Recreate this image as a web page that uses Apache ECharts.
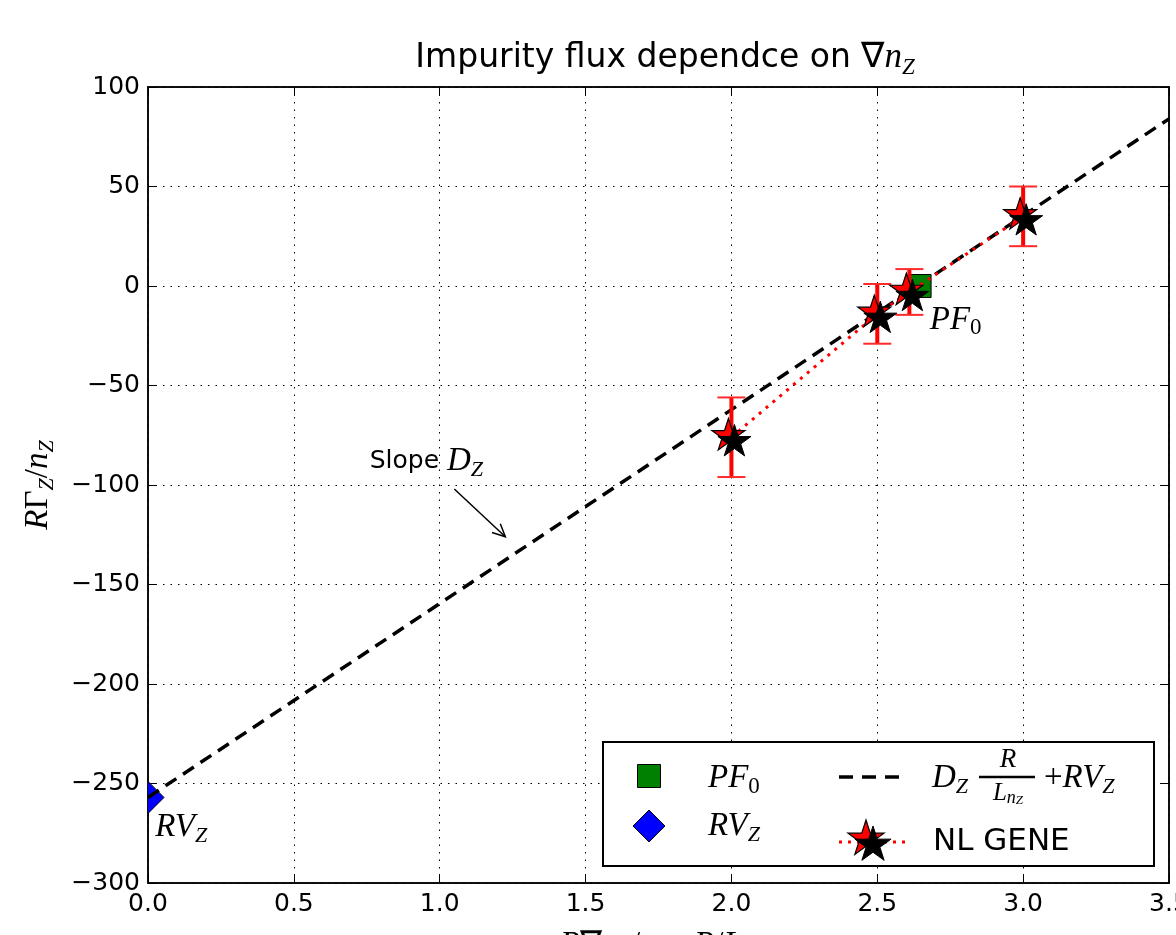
<!DOCTYPE html>
<html>
<head>
<meta charset="utf-8">
<script src="https://cdn.jsdelivr.net/npm/echarts@6/dist/echarts.min.js"></script>
<style>
  html, body { margin: 0; padding: 0; background: #fff; }
  #chart { width: 1176px; height: 935px; }
</style>
</head>
<body>
<div id="chart"></div>
<script>
// fit line  D_Z * R/L_nz + RV_Z
var fitX = [0, 3.5]
var fitY = [-257, 84]
// NL GENE runs
var geneX = [2.0, 2.5, 2.61, 3.0]
var geneY = [-76, -14, -3, 35]
var geneErr = [20, 15, 11.5, 15]
// PF_0 point
var pfX = [2.645]
var pfY = [0]
// RV_Z point
var rvX = [0]
var rvY = [-257]
// axis ticks
var xTicks = [0, 0.5, 1.0, 1.5, 2.0, 2.5, 3.0, 3.5]
var yTicks = [-300, -250, -200, -150, -100, -50, 0, 50, 100]

var mathFont = 'Liberation Serif'
var sansFont = 'DejaVu Sans'

// 5-point star like matplotlib '*'
function starPoints(cx, cy, R) {
  var pts = []
  for (var i = 0; i < 10; i++) {
    var r = i % 2 === 0 ? R : R * 0.382
    var a = -Math.PI / 2 + i * Math.PI / 5
    pts.push([cx + r * Math.cos(a), cy + r * Math.sin(a)])
  }
  return pts
}
var STAR = 'path://M' + starPoints(50, 50, 50).map(function (p) {
  return p[0].toFixed(2) + ',' + p[1].toFixed(2)
}).join(' L') + ' Z'

var mathRich = {
  i: { fontFamily: mathFont, fontStyle: 'italic', fontSize: 33, lineHeight: 40, color: '#000' },
  u: { fontFamily: mathFont, fontSize: 33, lineHeight: 40, color: '#000' },
  s: { fontFamily: mathFont, fontStyle: 'italic', fontSize: 22, lineHeight: 22, verticalAlign: 'bottom', color: '#000' },
  d: { fontFamily: mathFont, fontSize: 23, lineHeight: 22, verticalAlign: 'bottom', color: '#000' },
}

function pair(xs, ys) {
  return xs.map(function (x, i) { return [x, ys[i]] })
}

var chart = echarts.init(document.getElementById('chart'))

var axisCommon = {
  type: 'value',
  axisLine: { show: true, onZero: false, lineStyle: { color: '#000', width: 1.5 } },
  axisTick: { show: true, inside: true, length: 9, lineStyle: { color: '#000', width: 1 } },
}
var gridDots = { show: true, lineStyle: { color: '#000', width: 1, type: [1.5, 6] } }

option = {
  backgroundColor: '#fff',
  animation: false,
  title: {
    text: 'Impurity flux dependce on {u|∇}{i|n}{s|Z}',
    left: 660,
    top: 32,
    textAlign: 'center',
    textStyle: {
      fontFamily: sansFont,
      fontSize: 33,
      fontWeight: 'normal',
      color: '#000',
      rich: {
        u: { fontFamily: mathFont, fontSize: 35, lineHeight: 42 },
        i: { fontFamily: mathFont, fontStyle: 'italic', fontSize: 35, lineHeight: 42 },
        s: { fontFamily: mathFont, fontStyle: 'italic', fontSize: 23, lineHeight: 22, verticalAlign: 'bottom' },
      },
    },
  },
  grid: {
    left: 148,
    right: 7,
    top: 87,
    bottom: 52,
    outerBoundsMode: 'none',
    containLabel: false,
    show: true,
    borderColor: '#000',
    borderWidth: 1.5,
    backgroundColor: '#fff',
  },
  xAxis: [
    Object.assign({}, axisCommon, {
      position: 'bottom',
      min: xTicks[0],
      max: xTicks[xTicks.length - 1],
      interval: 0.5,
      axisLabel: {
        color: '#000',
        fontFamily: sansFont,
        fontSize: 25,
        margin: 9,
        hideOverlap: false,
        formatter: function (v) { return v.toFixed(1) },
      },
      splitLine: gridDots,
    }),
    Object.assign({}, axisCommon, {
      position: 'top',
      min: xTicks[0],
      max: xTicks[xTicks.length - 1],
      interval: 0.5,
      axisLabel: { show: false },
      splitLine: { show: false },
    }),
  ],
  yAxis: [
    Object.assign({}, axisCommon, {
      position: 'left',
      min: yTicks[0],
      max: yTicks[yTicks.length - 1],
      interval: 50,
      axisLabel: {
        color: '#000',
        fontFamily: sansFont,
        fontSize: 25,
        margin: 8,
        formatter: function (v) { return v < 0 ? '\u2212' + Math.abs(v) : String(v) },
      },
      splitLine: gridDots,
      name: '{i|R}{u|Γ}{s|Z}{u|/}{i|n}{s|Z}',
      nameLocation: 'middle',
      nameRotate: 90,
      nameGap: 90,
      nameTextStyle: { rich: mathRich },
    }),
    Object.assign({}, axisCommon, {
      position: 'right',
      min: yTicks[0],
      max: yTicks[yTicks.length - 1],
      interval: 50,
      axisLabel: { show: false },
      splitLine: { show: false },
    }),
  ],
  series: [
    {
      // RV_Z diamond, clipped at the axis like matplotlib
      name: 'RV_Z',
      type: 'custom',
      clip: true,
      z: 2,
      data: pair(rvX, rvY),
      renderItem: function (params, api) {
        var p = api.coord([api.value(0), api.value(1)])
        return {
          type: 'polygon',
          shape: { points: [[p[0], p[1] - 16], [p[0] + 16, p[1]], [p[0], p[1] + 16], [p[0] - 16, p[1]]] },
          style: { fill: '#0000ff', stroke: '#000', lineWidth: 1 },
        }
      },
    },
    {
      name: 'fit',
      type: 'line',
      z: 3,
      data: pair(fitX, fitY),
      symbol: 'none',
      lineStyle: { color: '#000', width: 3.5, type: [13, 8] },
    },
    {
      name: 'PF_0',
      type: 'scatter',
      z: 4,
      data: pair(pfX, pfY),
      symbol: 'rect',
      symbolSize: 23,
      itemStyle: { color: '#008000', borderColor: '#000', borderWidth: 1, opacity: 1 },
    },
    {
      name: 'NL GENE line',
      type: 'line',
      z: 5,
      data: pair(geneX, geneY),
      symbol: 'none',
      lineStyle: { color: '#ff0000', width: 3, type: [3, 6] },
    },
    {
      name: 'errors',
      type: 'custom',
      z: 6,
      data: geneX.map(function (x, i) { return [x, geneY[i] - geneErr[i], geneY[i] + geneErr[i]] }),
      encode: { x: 0, y: [1, 2] },
      renderItem: function (params, api) {
        var lo = api.coord([api.value(0), api.value(1)])
        var hi = api.coord([api.value(0), api.value(2)])
        var c = 14
        return {
          type: 'group',
          children: [
            { type: 'line', shape: { x1: lo[0], y1: lo[1], x2: hi[0], y2: hi[1] }, style: { stroke: '#ff0000', lineWidth: 4 } },
            { type: 'line', shape: { x1: lo[0] - c, y1: lo[1], x2: lo[0] + c, y2: lo[1] }, style: { stroke: '#ff2a2a', lineWidth: 2 } },
            { type: 'line', shape: { x1: hi[0] - c, y1: hi[1], x2: hi[0] + c, y2: hi[1] }, style: { stroke: '#ff2a2a', lineWidth: 2 } },
          ],
        }
      },
    },
    {
      name: 'NL GENE red',
      type: 'scatter',
      z: 7,
      data: pair(geneX, geneY),
      symbol: STAR,
      symbolKeepAspect: true,
      symbolSize: 33,
      symbolOffset: [-3, -3],
      itemStyle: { color: '#ff0000', borderColor: '#000', borderWidth: 1.2, opacity: 1 },
    },
    {
      name: 'NL GENE black',
      type: 'scatter',
      z: 8,
      data: pair(geneX, geneY),
      symbol: STAR,
      symbolKeepAspect: true,
      symbolSize: 33,
      symbolOffset: [3, 3],
      itemStyle: { color: '#000', borderColor: '#000', borderWidth: 1, opacity: 1 },
    },
  ],
}
chart.setOption(option)

// annotations and legend
var slopeAt = chart.convertToPixel({ gridIndex: 0 }, [0.76, -88])
var arrowFrom = chart.convertToPixel({ gridIndex: 0 }, [1.05, -102])
var arrowTo = chart.convertToPixel({ gridIndex: 0 }, [1.225, -126])
var pfAt = chart.convertToPixel({ gridIndex: 0 }, [2.68, -17])
var rvAt = chart.convertToPixel({ gridIndex: 0 }, [0.025, -272])
var xNameAt = chart.convertToPixel({ gridIndex: 0 }, [1.75, -300])

var ang = Math.atan2(arrowTo[1] - arrowFrom[1], arrowTo[0] - arrowFrom[0])
var hl = 14
function headPt(sign) {
  return [arrowTo[0] - hl * Math.cos(ang + sign * 0.45), arrowTo[1] - hl * Math.sin(ang + sign * 0.45)]
}

function mathText(x, y, text, align) {
  return {
    type: 'text',
    x: x,
    y: y,
    z: 100,
    style: { text: text, rich: mathRich, verticalAlign: 'middle', align: align || 'left' },
  }
}

var lgX = 603, lgY = 742, lgW = 551, lgH = 124
var dashSegs = [[839, 853], [862, 876], [885, 899]]

chart.setOption({
  graphic: [
    // x axis label, mostly below the picture edge as in the source
    mathText(xNameAt[0] + 4, xNameAt[1] + 62, '{i|R}{u|∇}{i|n}{s|Z}{u|/}{i|n}{s|Z} {u|=} {i|R}{u|/}{i|L}{s|nZ}', 'center'),
    {
      type: 'text', x: slopeAt[0], y: slopeAt[1], z: 100,
      style: { text: 'Slope {i|D}{s|Z}', rich: mathRich, font: '25px "DejaVu Sans"', fill: '#000', verticalAlign: 'middle' },
    },
    { type: 'line', z: 100, shape: { x1: arrowFrom[0], y1: arrowFrom[1], x2: arrowTo[0], y2: arrowTo[1] }, style: { stroke: '#000', lineWidth: 1.5 } },
    { type: 'polyline', z: 100, shape: { points: [headPt(1), arrowTo, headPt(-1)] }, style: { stroke: '#000', lineWidth: 1.5, fill: null } },
    mathText(pfAt[0], pfAt[1], '{i|PF}{d|0}'),
    mathText(rvAt[0], rvAt[1], '{i|RV}{s|Z}'),

    // legend box
    { type: 'rect', z: 90, shape: { x: lgX, y: lgY, width: lgW, height: lgH }, style: { fill: '#fff', stroke: '#000', lineWidth: 2 } },
    { type: 'rect', z: 100, shape: { x: 649 - 11.5, y: 776 - 11.5, width: 23, height: 23 }, style: { fill: '#008000', stroke: '#000', lineWidth: 1 } },
    mathText(708, 778, '{i|PF}{d|0}'),
    { type: 'polygon', z: 100, shape: { points: [[649, 810], [665, 826], [649, 842], [633, 826]] }, style: { fill: '#0000ff', stroke: '#000', lineWidth: 1 } },
    mathText(708, 826, '{i|RV}{s|Z}'),
  ].concat(dashSegs.map(function (s) {
    return { type: 'line', z: 100, shape: { x1: s[0], y1: 777, x2: s[1], y2: 777 }, style: { stroke: '#000', lineWidth: 3.5 } }
  })).concat([
    mathText(932, 778, '{i|D}{s|Z}'),
    { type: 'text', z: 100, x: 1008, y: 760, style: { text: 'R', font: 'italic 27px "Liberation Serif"', fill: '#000', align: 'center', verticalAlign: 'middle' } },
    { type: 'line', z: 100, shape: { x1: 979, y1: 777, x2: 1035, y2: 777 }, style: { stroke: '#000', lineWidth: 2.5 } },
    {
      type: 'text', z: 100, x: 1008, y: 793,
      style: {
        text: '{a|L}{b|n}{c|Z}', align: 'center', verticalAlign: 'middle',
        rich: {
          a: { fontFamily: mathFont, fontStyle: 'italic', fontSize: 25, lineHeight: 28 },
          b: { fontFamily: mathFont, fontStyle: 'italic', fontSize: 18, lineHeight: 16, verticalAlign: 'bottom' },
          c: { fontFamily: mathFont, fontStyle: 'italic', fontSize: 13, lineHeight: 8, verticalAlign: 'bottom' },
        },
      },
    },
    mathText(1044, 778, '{u|+}{i|RV}{s|Z}'),
    { type: 'line', z: 100, shape: { x1: 839, y1: 842, x2: 905, y2: 842 }, style: { stroke: '#ff0000', lineWidth: 3, lineDash: [3, 6] } },
    { type: 'polygon', z: 101, shape: { points: starPoints(866, 839, 19) }, style: { fill: '#ff0000', stroke: '#000', lineWidth: 1.2 } },
    { type: 'polygon', z: 102, shape: { points: starPoints(873, 845, 19) }, style: { fill: '#000', stroke: '#000', lineWidth: 1 } },
    { type: 'text', z: 100, x: 933, y: 842, style: { text: 'NL GENE', font: '31px "DejaVu Sans"', fill: '#000', verticalAlign: 'middle' } },
  ]),
})

window.addEventListener('resize', function () {
  chart.resize()
})
</script>
</body>
</html>
